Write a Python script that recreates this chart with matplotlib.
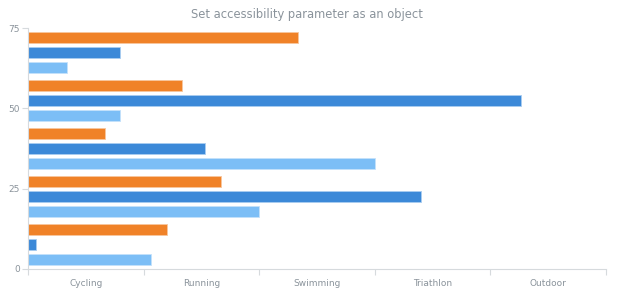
import numpy as np
import matplotlib.pyplot as plt

# categories as shown on the bottom axis
categories = ['Cycling', 'Running', 'Swimming', 'Triathlon', 'Outdoor']
value_ticks = [0, 25, 50, 75]

# bar groups from top to bottom, three series each
series_orange = [35, 20, 10, 25, 18]
series_blue = [12, 64, 23, 51, 1]
series_light = [5, 12, 45, 30, 16]

c_orange = '#f08228'
c_blue = '#3c89d8'
c_light = '#7cbef6'
txt = '#8a939b'
line = '#d6dadd'

fig = plt.figure(figsize=(6.2, 3.0), dpi=100)
rect = [28/620, 31/300, 578/620, 241/300]

# bars: value scale horizontal, groups vertical
axb = fig.add_axes(rect)
n = len(series_orange)
centers = n - 0.5 - np.arange(n)
off = 0.311
h = 0.228
axb.barh(centers + off, series_orange, height=h, color=c_orange, edgecolor='#f7c69e', linewidth=0.6)
axb.barh(centers, series_blue, height=h, color=c_blue, edgecolor='#a9cdf0', linewidth=0.6)
axb.barh(centers - off, series_light, height=h, color=c_light, edgecolor='#c4e1fb', linewidth=0.6)
axb.set_xlim(0, 75)
axb.set_ylim(0, n)
axb.axis('off')

# axes drawn on top
axa = fig.add_axes(rect, facecolor='none')
axa.set_xlim(0, len(categories))
axa.set_ylim(0, 75)
for s in ['top', 'right']:
    axa.spines[s].set_visible(False)
axa.spines['left'].set_color(line)
axa.spines['bottom'].set_color(line)
axa.spines['left'].set_linewidth(0.8)
axa.spines['bottom'].set_linewidth(0.8)
axa.set_yticks(value_ticks)
axa.set_yticklabels([str(v) for v in value_ticks])
axa.set_xticks(np.arange(len(categories) + 1))
axa.set_xticklabels([])
axa.set_xticks(np.arange(len(categories)) + 0.5, minor=True)
axa.set_xticklabels(categories, minor=True)
axa.tick_params(axis='x', which='major', length=4, color=line, width=0.8)
axa.tick_params(axis='x', which='minor', length=0, pad=7, labelsize=6.5, labelcolor=txt)
axa.tick_params(axis='y', length=4, color=line, width=0.8, pad=2, labelsize=6.5, labelcolor=txt)

fig.text(0.495, 0.953, 'Set accessibility parameter as an object', ha='center', va='center',
         fontsize=8.3, color=txt)

fig.savefig('out.png', dpi=100)
